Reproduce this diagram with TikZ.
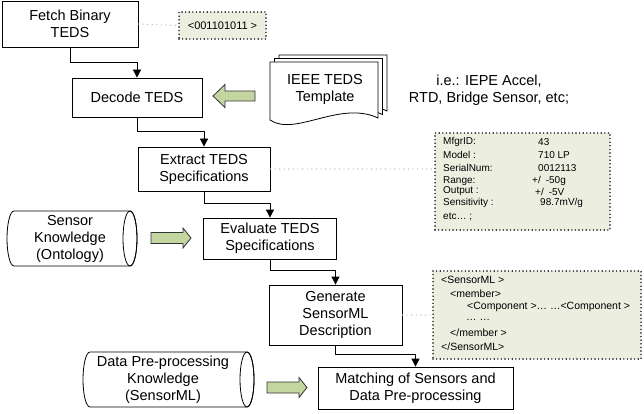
\documentclass[tikz,border=0pt]{standalone}
\usepackage{fontspec}
\setmainfont{Liberation Sans}
\usetikzlibrary{arrows.meta}
\definecolor{notefill}{RGB}{236,239,224}
\definecolor{arrowfill}{RGB}{196,214,160}

\begin{document}
\begin{tikzpicture}[x=1pt,y=-1pt,
    every node/.style={inner sep=0pt},
    stepbox/.style={draw=black,line width=0.8pt,fill=white,align=center,font=\fontsize{14.5}{17}\selectfont},
    label/.style={align=center,font=\fontsize{14.5}{17}\selectfont},
    note/.style={draw=black,fill=notefill,line width=1.6pt,dash pattern=on 0pt off 3.6pt,line cap=round},
    small/.style={font=\fontsize{10}{12}\selectfont},
    code/.style={font=\fontsize{10.5}{12}\selectfont},
    link/.style={draw=gray!55,line width=1.4pt,dash pattern=on 0pt off 4.6pt,line cap=round},
    flow/.style={line width=0.8pt,-{Triangle[length=8pt,width=8pt]}},
    greenarrow/.style={draw=black!80,line width=0.8pt,fill=arrowfill},
    page/.style={draw=black,line width=0.8pt,fill=white},
    rim/.style={x radius=7,y radius=27.5}]
    \useasboundingbox (0,0) rectangle (644,414);

    % process steps
    \node[stepbox,minimum width=136pt,minimum height=46pt] (fetch) at (70,24) {Fetch Binary\\TEDS};
    \node[stepbox,minimum width=130pt,minimum height=39pt] (decode) at (137,97.5) {Decode TEDS};
    \node[stepbox,minimum width=132pt,minimum height=44pt] (extract) at (204,169) {Extract TEDS\\Specifications};
    \node[stepbox,minimum width=133pt,minimum height=41pt] (evaluate) at (270,238.5) {Evaluate TEDS\\Specifications};
    \node[stepbox,minimum width=133pt,minimum height=60pt] (generate) at (335.5,315) {Generate\\SensorML\\Description};
    \node[stepbox,minimum width=195pt,minimum height=42pt] (matching) at (415.5,388) {Matching of Sensors and\\Data Pre-processing};

    % knowledge stores
    \filldraw[page] (14,211) -- (130,211) arc[start angle=-90,end angle=90,rim] -- (14,266) arc[start angle=90,end angle=270,rim] -- cycle;
    \draw[line width=0.8pt] (130,238.5) ellipse [rim];
    \node[label] (sensorkb) at (70,239) {Sensor\\Knowledge\\(Ontology)};

    \filldraw[page] (90,352) -- (247,352) arc[start angle=-90,end angle=90,rim] -- (90,407) arc[start angle=90,end angle=270,rim] -- cycle;
    \draw[line width=0.8pt] (247,379.5) ellipse [rim];
    \node[label] (datakb) at (163,380) {Data Pre-processing\\Knowledge\\(SensorML)};

    % template document
    \filldraw[page] (279,55) -- (387,55) -- (387,111) .. controls (349,93) and (304,130) .. (279,113) -- cycle;
    \filldraw[page] (274.5,58.5) -- (382.5,58.5) -- (382.5,114.5) .. controls (344.5,96.5) and (299.5,133.5) .. (274.5,116.5) -- cycle;
    \filldraw[page] (270,62) -- (378,62) -- (378,118) .. controls (340,100) and (295,137) .. (270,120) -- cycle;
    \node[label] (template) at (325,89) {IEEE TEDS\\Template};
    \node[label] (examples) at (489,90) {i.e.: IEPE Accel,\\RTD, Bridge Sensor, etc;};

    % notes
    \node[note,minimum width=87pt,minimum height=27pt,font=\fontsize{11}{12}\selectfont] (bits) at (222.5,25.5) {<001101011 >};

    \node[note,minimum width=175pt,minimum height=97pt] (specs) at (522.5,181.5) {};
    \node[small,anchor=west] (mfgr) at (443,142) {MfgrID:};
    \node[small,anchor=west] (mfgrv) at (538,142) {43};
    \node[small,anchor=west] (model) at (443,155) {Model :};
    \node[small,anchor=west] (modelv) at (538,155) {710 LP};
    \node[small,anchor=west] (serial) at (443,168) {SerialNum:};
    \node[small,anchor=west] (serialv) at (538,168) {0012113};
    \node[small,anchor=west] (range) at (443,181) {Range:};
    \node[small,anchor=west] (rangev) at (532,181) {+/\enspace-50g};
    \node[small,anchor=west] (output) at (443,191.5) {Output :};
    \node[small,anchor=west] (outputv) at (535,191.5) {+/\enspace-5V};
    \node[small,anchor=west] (sens) at (443,203) {Sensitivity :};
    \node[small,anchor=west] (sensv) at (540,203) {98.7mV/g};
    \node[small,anchor=west] (etc) at (443,217) {etc\ldots\ ;};

    \node[note,minimum width=208pt,minimum height=88pt] (xml) at (537,315) {};
    \node[code,anchor=west] (x1) at (441,280) {<SensorML >};
    \node[code,anchor=west] (x2) at (450,294) {<member>};
    \node[code,anchor=west] (x3) at (467,307) {<Component >\ldots\ \ldots<Component >};
    \node[code,anchor=west] (x4) at (466,320) {\ldots\ \ldots};
    \node[code,anchor=west] (x5) at (450,333) {</member >};
    \node[code,anchor=west] (x6) at (441,347) {</SensorML>};

    % flow
    \draw[flow] (fetch.south) -- ++(0,15) -| (decode.north);
    \draw[flow] (decode.south) -- ++(0,14) -| (extract.north);
    \draw[flow] (extract.south) -- ++(0,12) -| (evaluate.north);
    \draw[flow] (evaluate.south) -- ++(0,11) -| (generate.north);
    \draw[flow] (generate.south) -- ++(0,9) -| (matching.north);

    \draw[link] (fetch.east) -- (bits.west);
    \draw[link] (extract.east) -- (extract.east -| specs.west);
    \draw[link] (generate.east) -- (xml.west);

    % input arrows
    \coordinate (tip1) at (213,96);
    \coordinate (tip2) at (191,238);
    \coordinate (tip3) at (307,387.5);
    \draw[greenarrow] (tip1) -- ++(12,-11.5) -- ++(0,6.5) -- ++(30,0) -- ++(0,10) -- ++(-30,0) -- ++(0,6.5) -- cycle;
    \draw[greenarrow] (tip2) -- ++(-8,-10) -- ++(0,4.5) -- ++(-32,0) -- ++(0,11) -- ++(32,0) -- ++(0,4.5) -- cycle;
    \draw[greenarrow] (tip3) -- ++(-8,-10) -- ++(0,4.5) -- ++(-32,0) -- ++(0,11) -- ++(32,0) -- ++(0,4.5) -- cycle;
\end{tikzpicture}
\end{document}
